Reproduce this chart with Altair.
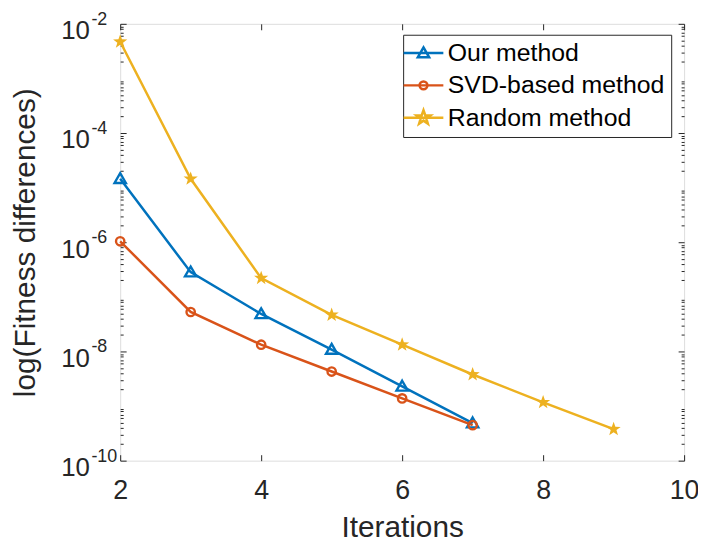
import math
import altair as alt
import pandas as pd

# ---- data ----
series_names = ["Our method", "SVD-based method", "Random method"]
series_colors = ["#0072BD", "#D95319", "#EDB120"]

iters_our = [2, 3, 4, 5, 6, 7]
vals_our = [1.45e-5, 2.83e-7, 4.86e-8, 1.08e-8, 2.29e-9, 4.86e-10]

iters_svd = [2, 3, 4, 5, 6, 7]
vals_svd = [1.04e-6, 5.28e-8, 1.33e-8, 4.29e-9, 1.38e-9, 4.47e-10]

iters_rand = [2, 3, 4, 5, 6, 7, 8, 9]
vals_rand = [4.7e-3, 1.45e-5, 2.2e-7, 4.67e-8, 1.33e-8, 3.78e-9, 1.17e-9, 3.77e-10]

x_ticks = [2, 4, 6, 8, 10]
y_exponents = [-10, -8, -6, -4, -2]

# ---- tables ----
rows = []
for name, its, vals in zip(series_names, [iters_our, iters_svd, iters_rand], [vals_our, vals_svd, vals_rand]):
    for i, v in zip(its, vals):
        rows.append({"series": name, "it": i, "val": v})
df = pd.DataFrame(rows)

y_major = [10.0 ** e for e in y_exponents]
y_minor = [m * 10.0 ** k for k in range(-10, -2) for m in range(2, 10)]
df_exp = pd.DataFrame({"val": y_major, "label": [str(e) for e in y_exponents]})

FONT = "Liberation Sans"
AX = "#262626"


def star_path(R, r, cx=0.0, cy=0.0):
    pts = []
    for k in range(10):
        ang = -math.pi / 2 + k * math.pi / 5
        rad = R if k % 2 == 0 else r
        pts.append((cx + rad * math.cos(ang), cy + rad * math.sin(ang)))
    return "M" + "L".join(f"{x:.3f},{y:.3f}" for x, y in pts) + "Z"


def circle_path(r, cx=0.0):
    return f"M{cx + r},0A{r},{r} 0 1 1 {cx - r},0A{r},{r} 0 1 1 {cx + r},0Z"


def tri_path(h, w, b, cx=0.0):
    return f"M{cx},{-h}L{cx + w},{b}L{cx - w},{b}Z"


# chart markers (size 144 -> 6 px per unit)
marker_tri = tri_path(0.95, 0.95, 0.7)
marker_circ = circle_path(0.7)
marker_star = star_path(1.25, 0.5)

# legend symbols (size 400 -> 10 px per unit): line + marker
LC = 0.2
leg_line = f"M{LC - 2:.2f},0L{LC + 2:.2f},0"
legend_paths = [
    leg_line + tri_path(0.57, 0.57, 0.42, LC),
    leg_line + circle_path(0.4, LC),
    leg_line + star_path(0.75, 0.3, LC),
]

xs = alt.Scale(domain=[2, 10], nice=False)
ys = alt.Scale(type="log", domain=[1e-10, 1e-2], nice=False)
cscale = alt.Scale(domain=series_names, range=series_colors)

base = alt.Chart(df)

main_x_axis = alt.Axis(values=x_ticks, title="Iterations", ticks=False, domain=False, grid=False,
                       labelFontSize=27, labelPadding=17, labelFlush=False, labelOverlap=False,
                       labelColor=AX, titleColor=AX, titleFontSize=30, titleFontWeight="normal",
                       titlePadding=9, labelFont=FONT, titleFont=FONT)
main_y_axis = alt.Axis(values=y_major, labelExpr="'10'", title="log(Fitness differences)",
                       ticks=False, domain=False, grid=False, labelFontSize=26, labelPadding=31,
                       labelOffset=7, labelOverlap=False, labelColor=AX, titleColor=AX,
                       titleFontSize=30, titleFontWeight="normal", titlePadding=20,
                       labelFont=FONT, titleFont=FONT)

lines = base.mark_line(strokeWidth=2.5).encode(
    x=alt.X("it:Q", scale=xs, axis=main_x_axis),
    y=alt.Y("val:Q", scale=ys, axis=main_y_axis),
    color=alt.Color("series:N", scale=cscale, legend=None),
    order="it:Q",
)

open_markers = base.transform_filter(alt.datum.series != "Random method").mark_point(
    filled=False, strokeWidth=2.4, size=144, opacity=1
).encode(
    x=alt.X("it:Q", scale=xs, axis=None),
    y=alt.Y("val:Q", scale=ys, axis=None),
    color=alt.Color("series:N", scale=cscale, legend=None),
    shape=alt.Shape("series:N", scale=alt.Scale(domain=series_names[:2], range=[marker_tri, marker_circ]), legend=None),
)

star_markers = base.transform_filter(alt.datum.series == "Random method").mark_point(
    filled=True, size=144, shape=marker_star, opacity=1, color=series_colors[2]
).encode(
    x=alt.X("it:Q", scale=xs, axis=None),
    y=alt.Y("val:Q", scale=ys, axis=None),
)

leg_props = dict(orient="none", legendX=285, legendY=11, title=None, labelFontSize=25, labelFont=FONT,
                 labelColor="#000000", symbolStrokeWidth=2.5, fillColor="white", strokeColor=AX,
                 padding=6, rowPadding=6.5, labelOffset=14, symbolOpacity=1, labelLimit=0,
                 symbolSize=400, symbolFillColor="transparent")

legend_layer = base.mark_point(opacity=0, filled=False, size=400).encode(
    x=alt.X("it:Q", scale=xs, axis=None),
    y=alt.Y("val:Q", scale=ys, axis=None),
    color=alt.Color("series:N", scale=cscale, legend=alt.Legend(**leg_props)),
    shape=alt.Shape("series:N", scale=alt.Scale(domain=series_names, range=legend_paths),
                    legend=alt.Legend(**leg_props)),
)


def tick_axis(orient, size, values):
    return alt.Axis(orient=orient, values=values, ticks=True, tickSize=size, offset=-size,
                    labels=False, domain=False, grid=False, title=None, tickColor=AX, tickWidth=1)


def tick_layer(xaxis, yaxis):
    return base.mark_point(opacity=0).encode(
        x=alt.X("it:Q", scale=xs, axis=xaxis),
        y=alt.Y("val:Q", scale=ys, axis=yaxis),
    )


ticks_a = tick_layer(tick_axis("bottom", 6, x_ticks), tick_axis("left", 6, y_major))
ticks_b = tick_layer(tick_axis("top", 6, x_ticks), tick_axis("right", 6, y_major))
ticks_c = tick_layer(None, tick_axis("left", 3, y_minor))
ticks_d = tick_layer(None, tick_axis("right", 3, y_minor))

exps = alt.Chart(df_exp).mark_text(align="left", baseline="middle", fontSize=18, dy=-4,
                                   font=FONT, color=AX).encode(
    x=alt.value(-29),
    y=alt.Y("val:Q", scale=ys, axis=None),
    text="label:N",
)

chart = alt.layer(
    lines, open_markers, star_markers, legend_layer, ticks_a, ticks_b, ticks_c, ticks_d, exps
).resolve_axis(
    x="independent", y="independent"
).resolve_scale(
    color="independent", shape="independent"
).properties(
    width=568, height=440, autosize="none",
    padding={"left": 113, "top": 14, "right": 14, "bottom": 80},
).configure_view(
    stroke=AX, strokeWidth=1
).configure(
    background="white"
)

chart.save("out.html", embed_options={"renderer": "svg", "actions": False})
